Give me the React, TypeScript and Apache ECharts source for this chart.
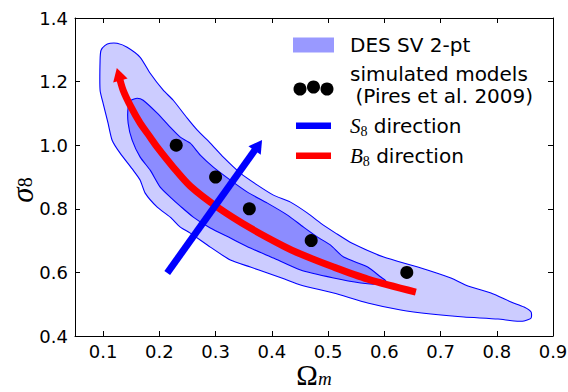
import React, { useEffect, useRef } from "react";
import * as echarts from "echarts";

// Axis ranges
const X_MIN = 0.05;
const X_MAX = 0.9;
const Y_MIN = 0.4;
const Y_MAX = 1.4;

// Outer (95%) DES SV 2-pt contour, traced clockwise
const outerOmega = [
  0.0946, 0.0963, 0.1035, 0.1124, 0.1249, 0.1427, 0.1659, 0.1837, 0.2069, 0.2247,
  0.2496, 0.2675, 0.2906, 0.3138, 0.3441, 0.3744, 0.4029, 0.4332, 0.4635, 0.4867,
  0.5134, 0.542, 0.599, 0.6596, 0.7184, 0.7487, 0.7897, 0.8254, 0.8486, 0.8611,
  0.8611, 0.8486, 0.8308, 0.8022, 0.7416, 0.6828, 0.6293, 0.5705, 0.5099, 0.4511,
  0.4226, 0.3922, 0.3619, 0.3263, 0.2906, 0.255, 0.2372, 0.2193, 0.1962, 0.1748,
  0.1659, 0.1534, 0.1302, 0.116, 0.1088, 0.0999, 0.0946,
];
const outerSigma = [
  1.267, 1.2985, 1.314, 1.3205, 1.3205, 1.308, 1.2765, 1.2263, 1.1729, 1.1414,
  1.0849, 1.0472, 1.0063, 0.9624, 0.9121, 0.8744, 0.843, 0.821, 0.7864, 0.755,
  0.7236, 0.6922, 0.6482, 0.6168, 0.5822, 0.5571, 0.5351, 0.5068, 0.4911, 0.4754,
  0.4566, 0.4471, 0.4471, 0.4534, 0.4597, 0.4691, 0.4817, 0.5037, 0.5351, 0.5602,
  0.5791, 0.5979, 0.6168, 0.6388, 0.6796, 0.7236, 0.7424, 0.7739, 0.8053, 0.8493,
  0.8901, 0.9215, 0.9749, 1.0158, 1.0692, 1.132, 1.1729,
];

// Inner (68%) contour
const innerOmega = [
  0.1605, 0.1712, 0.1962, 0.2193, 0.2372, 0.255, 0.2728, 0.296, 0.3263, 0.3566,
  0.3922, 0.4279, 0.4564, 0.4814, 0.5045, 0.5277, 0.5705, 0.5937, 0.6026, 0.5848,
  0.558, 0.5099, 0.4511, 0.4029, 0.3619, 0.3263, 0.2906, 0.2603, 0.2372, 0.2193,
  0.2015, 0.1837, 0.1659, 0.1516, 0.1445, 0.1445, 0.1498,
];
const innerSigma = [
  1.1477, 1.1414, 1.1006, 1.0566, 1.0252, 1.0063, 0.9686, 0.9309, 0.8901, 0.8524,
  0.8178, 0.7801, 0.7424, 0.711, 0.6859, 0.6482, 0.6168, 0.5854, 0.5728, 0.5634,
  0.5665, 0.5822, 0.6073, 0.645, 0.6765, 0.7079, 0.7393, 0.7739, 0.8084, 0.8367,
  0.8681, 0.9215, 0.9624, 1.0158, 1.0692, 1.1194, 1.1414,
];

// Simulated models (Pires et al. 2009)
const modelOmega = [0.23, 0.3, 0.36, 0.47, 0.64];
const modelSigma = [1.0, 0.9, 0.8, 0.7, 0.6];

// B8 direction curve (tail -> arrow head)
const b8Omega = [
  0.6561, 0.5705, 0.5099, 0.4511, 0.4208, 0.3619, 0.3031, 0.255, 0.2247, 0.1962,
  0.1837, 0.1659, 0.1498, 0.1356, 0.1275,
];
const b8Sigma = [
  0.5382, 0.5791, 0.6168, 0.6576, 0.6828, 0.7393, 0.8053, 0.8713, 0.9309, 0.9938,
  1.0252, 1.0692, 1.1194, 1.1729, 1.2231,
];

// S8 direction (tail -> arrow head)
const s8Omega = [0.214, 0.376];
const s8Sigma = [0.598, 1.0];

const legendLabels = ["DES SV 2-pt", "simulated models", "(Pires et al. 2009)", "direction"];

const SANS = "DejaVu Sans";
const MATH = "Liberation Serif";

function polygonSeries(xs: number[], ys: number[], fill: string, z: number) {
  return {
    type: "custom",
    coordinateSystem: "cartesian2d",
    xAxisIndex: 0,
    yAxisIndex: 0,
    z,
    silent: true,
    data: xs.map((x, i) => [x, ys[i]]),
    renderItem: (params: any, api: any) => {
      if (params.dataIndex !== 0) return null;
      const pts = xs.map((x, i) => api.coord([x, ys[i]]));
      return {
        type: "polygon",
        shape: { points: pts, smooth: 0.2 },
        style: { fill, stroke: "#0000ff", lineWidth: 1.1 },
      };
    },
  };
}

function arrowData(xs: number[], ys: number[], rotate: number) {
  return xs.map((x, i) =>
    i === xs.length - 1
      ? { value: [x, ys[i]], symbol: "triangle", symbolSize: [15, 13], symbolRotate: rotate }
      : { value: [x, ys[i]], symbol: "none" }
  );
}

const axisLineStyle = { show: true, onZero: false, lineStyle: { color: "#000", width: 1 } };
const axisTickStyle = { show: true, inside: true, length: 5, lineStyle: { color: "#000", width: 1 } };
const tickText = { fontFamily: SANS, fontSize: 18, color: "#000" };

const xCommon = {
  type: "value",
  min: X_MIN,
  max: X_MAX,
  splitNumber: 9,
  minInterval: 0.1,
  maxInterval: 0.1,
  axisLine: axisLineStyle,
  axisTick: axisTickStyle,
  splitLine: { show: false },
};
const yCommon = {
  type: "value",
  min: Y_MIN,
  max: Y_MAX,
  interval: 0.2,
  axisLine: axisLineStyle,
  axisTick: axisTickStyle,
  splitLine: { show: false },
};

const xNameRich = {
  a: { fontFamily: MATH, fontSize: 29, lineHeight: 26, color: "#000" },
  bi: { fontFamily: MATH, fontStyle: "italic", fontSize: 19, lineHeight: 12, verticalAlign: "bottom", color: "#000" },
};
const yNameRich = {
  ai: { fontFamily: MATH, fontStyle: "italic", fontSize: 31, lineHeight: 26, color: "#000" },
  b: { fontFamily: MATH, fontSize: 20, lineHeight: 10, verticalAlign: "bottom", color: "#000" },
};

const legendRich = {
  i: { fontFamily: MATH, fontStyle: "italic", fontSize: 21, lineHeight: 24, fill: "#000", color: "#000" },
  s: { fontFamily: MATH, fontSize: 14, lineHeight: 10, verticalAlign: "bottom", fill: "#000", color: "#000" },
  t: { fontFamily: SANS, fontSize: 20, lineHeight: 24, fill: "#000", color: "#000" },
};

const option: any = {
  animation: false,
  backgroundColor: "#ffffff",
  grid: { left: 75, right: 15, top: 18, bottom: 56, containLabel: false, outerBoundsMode: "none" },
  xAxis: [
    {
      ...xCommon,
      position: "bottom",
      axisLabel: { ...tickText, margin: 6, showMinLabel: false, formatter: (v: number) => v.toFixed(1) },
      name: "{a|Ω}{bi|m}",
      nameLocation: "middle",
      nameGap: 26,
      nameMoveOverlap: false,
      nameTextStyle: { rich: xNameRich },
    },
    {
      ...xCommon,
      position: "top",
      axisLabel: { show: false },
    },
  ],
  yAxis: [
    {
      ...yCommon,
      position: "left",
      axisLabel: { ...tickText, margin: 7, formatter: (v: number) => v.toFixed(1) },
      name: "{ai|σ}{b|8}",
      nameLocation: "middle",
      nameGap: 40,
      nameMoveOverlap: false,
      nameTextStyle: { rich: yNameRich, padding: [0, 26, 0, 0] },
    },
    {
      ...yCommon,
      position: "right",
      axisLabel: { show: false },
    },
  ],
  series: [
    polygonSeries(outerOmega, outerSigma, "#ccccff", 1),
    polygonSeries(innerOmega, innerSigma, "#8c8cff", 2),
    {
      type: "line",
      xAxisIndex: 0,
      yAxisIndex: 0,
      z: 3,
      silent: true,
      smooth: 0.3,
      showSymbol: true,
      data: arrowData(b8Omega, b8Sigma, 16),
      lineStyle: { color: "#ff0000", width: 7, cap: "butt" },
      itemStyle: { color: "#ff0000", borderWidth: 0, opacity: 1 },
    },
    {
      type: "line",
      xAxisIndex: 0,
      yAxisIndex: 0,
      z: 4,
      silent: true,
      showSymbol: true,
      data: arrowData(s8Omega, s8Sigma, -35),
      lineStyle: { color: "#0000ff", width: 7, cap: "butt" },
      itemStyle: { color: "#0000ff", borderWidth: 0, opacity: 1 },
    },
    {
      type: "scatter",
      xAxisIndex: 0,
      yAxisIndex: 0,
      z: 5,
      silent: true,
      symbol: "circle",
      symbolSize: 13,
      data: modelOmega.map((x, i) => [x, modelSigma[i]]),
      itemStyle: { color: "#000000", opacity: 1 },
    },
  ],
  graphic: [
    { type: "rect", shape: { x: 293, y: 37.5, width: 41, height: 15 }, style: { fill: "#9999ff" } },
    {
      type: "text",
      x: 350,
      y: 45,
      style: { text: legendLabels[0], fontFamily: SANS, fontSize: 20, fill: "#000", verticalAlign: "middle" },
    },
    { type: "circle", shape: { cx: 300, cy: 89, r: 6.5 }, style: { fill: "#000" } },
    { type: "circle", shape: { cx: 313.5, cy: 87, r: 6.5 }, style: { fill: "#000" } },
    { type: "circle", shape: { cx: 327, cy: 89, r: 6.5 }, style: { fill: "#000" } },
    {
      type: "text",
      x: 350,
      y: 74,
      style: { text: legendLabels[1], fontFamily: SANS, fontSize: 20, fill: "#000", verticalAlign: "middle" },
    },
    {
      type: "text",
      x: 355.5,
      y: 96,
      style: { text: legendLabels[2], fontFamily: SANS, fontSize: 20, fill: "#000", verticalAlign: "middle" },
    },
    { type: "rect", shape: { x: 296, y: 122.5, width: 35, height: 6.5 }, style: { fill: "#0000ff" } },
    {
      type: "text",
      x: 350,
      y: 126,
      style: { text: "{i|S}{s|8}{t| " + legendLabels[3] + "}", rich: legendRich, verticalAlign: "middle" },
    },
    { type: "rect", shape: { x: 296, y: 152.5, width: 35, height: 6.5 }, style: { fill: "#ff0000" } },
    {
      type: "text",
      x: 350,
      y: 156,
      style: { text: "{i|B}{s|8}{t| " + legendLabels[3] + "}", rich: legendRich, verticalAlign: "middle" },
    },
  ],
};

export default function App() {
  const ref = useRef<HTMLDivElement>(null);
  useEffect(() => {
    if (!ref.current) return;
    const chart = echarts.init(ref.current, null, { renderer: "svg" });
    chart.setOption(option);
    return () => chart.dispose();
  }, []);
  return (
    <div
      ref={ref}
      style={{ position: "fixed", left: 0, top: 0, width: 568, height: 392, background: "#fff" }}
    />
  );
}
